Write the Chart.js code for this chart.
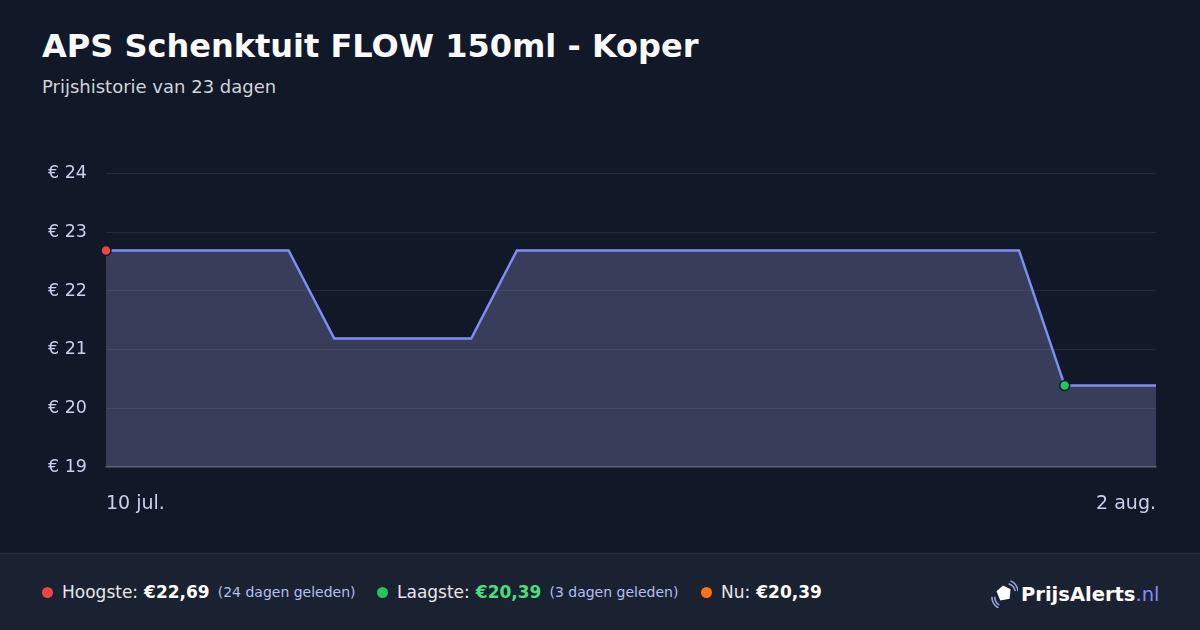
<!DOCTYPE html>
<html>
<head>
<meta charset="utf-8">
<script src="https://cdn.jsdelivr.net/npm/chart.js@4"></script>
<style>
  html, body { margin: 0; padding: 0; }
  body {
    width: 1200px; height: 630px; overflow: hidden;
    background: #111827; font-family: "DejaVu Sans", sans-serif; position: relative;
  }
  h1 {
    position: absolute; left: 42px; top: 27px; margin: 0;
    font-size: 32px; font-weight: bold; color: #f9fafb;
  }
  .sub {
    position: absolute; left: 42px; top: 76px;
    font-size: 18px; color: #d1d5db;
  }
  #wrap { position: absolute; left: 0; top: 144px; width: 1200px; height: 396px; }
  .foot {
    position: absolute; left: 0; top: 553px; width: 1200px; height: 77px;
    background: #1a2131; border-top: 1px solid #262f4a;
    display: flex; align-items: center; font-size: 17px; color: #e5e7eb;
  }
  .item { position: absolute; top: 28px; display: flex; align-items: center; white-space: nowrap; }
  .dot { width: 11px; height: 11px; border-radius: 50%; margin-right: 9px; }
  .item b { color: #fff; margin-left: 6px; }
  .item small { font-size: 14px; color: #b4bff0; margin-left: 8px; }
  .logo { position: absolute; left: 990px; top: 26px; display: flex; align-items: center; font-size: 19.5px; font-weight: bold; color: #fff; }
  .logo span { color: #818cf8; font-weight: normal; }
</style>
</head>
<body>
<h1>APS Schenktuit FLOW 150ml - Koper</h1>
<div class="sub">Prijshistorie van 23 dagen</div>
<div id="wrap"><canvas id="myChart"></canvas></div>
<div class="foot">
  <div class="item" style="left:42px"><div class="dot" style="background:#ef4444"></div>Hoogste: <b>€22,69</b><small>(24 dagen geleden)</small></div>
  <div class="item" style="left:377px"><div class="dot" style="background:#22c55e"></div>Laagste: <b style="color:#4ade80">€20,39</b><small>(3 dagen geleden)</small></div>
  <div class="item" style="left:701px"><div class="dot" style="background:#f97316"></div>Nu: <b>€20,39</b></div>
  <div class="logo">
    <svg width="28" height="28" viewBox="0 0 30 30" style="margin-right:3px">
      <path d="M7 12 L14 6 L22 10 L21 20 L11 22 Z" fill="#fff"/>
      <path d="M20 4 Q26 6 27 12" stroke="#9aa5e8" stroke-width="1.6" fill="none"/>
      <path d="M22 1 Q29 4 30 12" stroke="#9aa5e8" stroke-width="1.6" fill="none"/>
      <path d="M5 18 Q5 24 10 27" stroke="#9aa5e8" stroke-width="1.6" fill="none"/>
      <path d="M2 18 Q2 26 9 30" stroke="#9aa5e8" stroke-width="1.6" fill="none"/>
    </svg>
    PrijsAlerts<span>.nl</span>
  </div>
</div>
<script>
const labels = [
  "10 jul.", "11 jul.", "12 jul.", "13 jul.", "14 jul.", "15 jul.", "16 jul.", "17 jul.",
  "18 jul.", "19 jul.", "20 jul.", "21 jul.", "22 jul.", "23 jul.", "24 jul.", "25 jul.",
  "26 jul.", "27 jul.", "28 jul.", "29 jul.", "30 jul.", "31 jul.", "1 aug.", "2 aug."
];
const prices = [
  22.69, 22.69, 22.69, 22.69, 22.69,
  21.19, 21.19, 21.19, 21.19,
  22.69, 22.69, 22.69, 22.69, 22.69, 22.69, 22.69, 22.69, 22.69, 22.69, 22.69, 22.69,
  20.39, 20.39, 20.39
];
const yTicks = [19, 20, 21, 22, 23, 24];
const highIdx = 0;
const lowIdx = 21;

const ctx = document.getElementById("myChart").getContext("2d");

const data = {
  labels,
  datasets: [
    {
      data: prices,
      borderColor: "#818cf8",
      borderWidth: 2.5,
      backgroundColor: "rgba(150,150,205,0.3)",
      fill: "start",
      tension: 0,
      pointRadius: (c) => (c.dataIndex === highIdx || c.dataIndex === lowIdx ? 5 : 0),
      pointBackgroundColor: (c) => (c.dataIndex === highIdx ? "#ef4444" : "#22c55e"),
      pointBorderColor: "#111827",
      pointBorderWidth: 1.5,
    },
  ],
};

const config = {
  type: "line",
  data: data,
  options: {
    responsive: true,
    maintainAspectRatio: false,
    animation: false,
    layout: { padding: { top: 20, right: 44, left: 0, bottom: 0 } },
    plugins: { legend: { display: false }, tooltip: { enabled: false } },
    scales: {
      x: {
        grid: { display: false, drawTicks: false },
        border: { color: "rgba(255,255,255,0.22)", width: 1.5 },
        ticks: {
          color: "#c8d0ee",
          font: { family: "DejaVu Sans", size: 19 },
          padding: 25,
          maxRotation: 0,
          autoSkip: false,
          align: "inner",
          callback: (v, i) => (i === 0 || i === labels.length - 1 ? labels[i] : ""),
        },
      },
      y: {
        min: yTicks[0],
        max: yTicks[yTicks.length - 1],
        afterFit: (s) => { s.width = 106; },
        afterBuildTicks: (s) => { s.ticks = yTicks.map((v) => ({ value: v })); },
        grid: { color: "rgba(255,255,255,0.08)", drawTicks: false },
        border: { display: false },
        ticks: {
          color: "#c8d0ee",
          font: { family: "DejaVu Sans", size: 17.5 },
          padding: 19,
          callback: (v) => "€ " + v,
        },
      },
    },
  },
};

let myChart = new Chart(ctx, config);
</script>
</body>
</html>
